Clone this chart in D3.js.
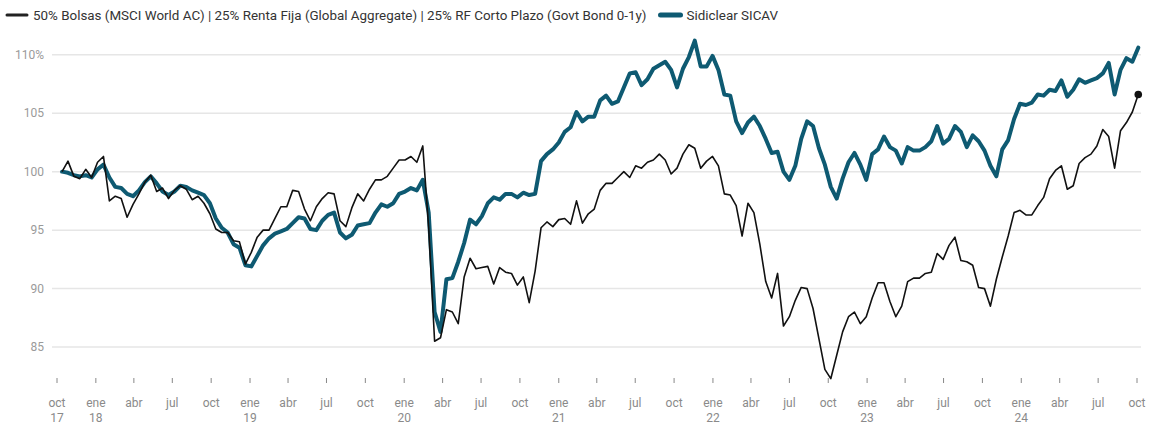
<!DOCTYPE html>
<html>
<head>
<meta charset="utf-8">
<script src="https://cdn.jsdelivr.net/npm/d3@7"></script>
<style>
  html, body { margin: 0; padding: 0; background: #fff; }
  svg { display: block; font-family: Roboto, "Noto Sans", sans-serif; }
</style>
</head>
<body>
<svg id="chart" width="1151" height="424"></svg>
<script>
// ---- Data (biweekly from 13 Oct 2017) ----
const startDate = "2017-10-13";
const stepDays = 14;
const seriesNames = [
  "50% Bolsas (MSCI World AC) | 25% Renta Fija (Global Aggregate) | 25% RF Corto Plazo (Govt Bond 0-1y)",
  "Sidiclear SICAV"
];
const benchValues = [
  100.0,100.9,99.6,99.4,100.2,99.5,100.8,101.3,97.5,97.9,
  97.7,96.1,97.2,98.1,99.1,99.7,98.3,98.6,97.7,98.4,
  98.8,98.5,97.6,97.9,97.3,96.4,95.1,94.8,94.8,94.1,
  94.0,92.1,93.1,94.4,95.0,95.0,96.0,97.0,97.0,98.4,
  98.3,96.8,95.8,97.0,97.7,98.2,98.1,95.8,95.3,96.9,
  98.1,97.5,98.5,99.3,99.3,99.6,100.3,101.0,101.0,101.3,
  100.8,102.2,95.2,85.5,85.8,88.2,88.0,87.0,91.0,92.6,
  91.7,91.8,91.9,90.4,91.8,91.4,91.3,90.3,91.0,88.8,
  91.5,95.2,95.7,95.3,95.9,96.0,95.5,97.5,95.6,96.4,
  96.8,98.4,99.0,99.0,99.5,100.0,99.5,100.5,100.3,100.8,
  101.0,101.5,101.0,99.8,100.3,101.5,102.3,102.0,100.3,100.9,
  101.3,100.5,98.1,98.0,97.1,94.5,97.3,96.5,93.8,90.6,
  89.2,91.3,86.8,87.6,89.0,90.1,90.0,88.3,85.7,83.1,
  82.3,84.3,86.3,87.6,88.0,87.0,87.6,89.2,90.5,90.5,
  88.9,87.6,88.5,90.6,90.9,90.9,91.3,91.4,93.0,92.5,
  93.7,94.4,92.4,92.3,92.0,90.1,90.0,88.5,90.8,92.7,
  94.5,96.5,96.7,96.3,96.3,97.1,97.8,99.4,100.1,100.5,
  98.5,98.8,100.7,101.2,101.5,102.2,103.6,103.0,100.3,103.5,
  104.2,105.1,106.6
];
const sicavValues = [
  100.0,99.9,99.7,99.6,99.7,99.5,100.2,100.6,99.5,98.7,
  98.6,98.1,97.9,98.4,99.1,99.6,99.0,98.3,98.0,98.3,
  98.8,98.7,98.4,98.2,98.0,97.3,96.0,95.2,94.8,93.8,
  93.5,92.0,91.9,92.8,93.7,94.3,94.7,94.9,95.1,95.6,
  96.1,96.0,95.1,95.0,95.8,96.3,96.5,94.8,94.3,94.6,
  95.4,95.5,95.6,96.5,97.2,97.0,97.3,98.1,98.3,98.6,
  98.4,99.3,96.5,88.0,86.3,90.8,90.9,92.3,93.9,95.9,
  95.5,96.2,97.3,97.8,97.6,98.1,98.1,97.8,98.2,98.0,
  98.1,100.9,101.5,101.9,102.5,103.4,103.8,105.1,104.3,104.7,
  104.7,106.1,106.5,105.8,106.0,107.2,108.4,108.5,107.4,107.9,
  108.8,109.1,109.4,108.7,107.2,108.8,109.8,111.2,109.0,109.0,
  109.9,108.7,106.6,106.5,104.3,103.3,104.2,104.7,103.9,102.8,
  101.6,101.7,100.0,99.3,100.5,102.8,104.3,103.9,102.0,100.6,
  98.7,97.7,99.4,100.8,101.6,100.6,99.3,101.5,101.9,103.0,
  102.1,101.8,100.7,102.1,101.8,101.8,102.1,102.6,103.9,102.4,
  102.8,103.9,103.4,102.1,103.1,102.6,101.8,100.5,99.6,101.9,
  102.7,104.5,105.8,105.7,105.9,106.6,106.5,107.0,106.9,107.8,
  106.4,107.0,107.9,107.6,107.8,108.0,108.4,109.3,106.6,108.7,
  109.7,109.4,110.6
];
const yTicks = [85, 90, 95, 100, 105, 110];
const monthNames = ["ene","feb","mar","abr","may","jun","jul","ago","sep","oct","nov","dic"];
const xDomain = ["2017-10-01", "2024-10-01"];

// ---- Build ----
const parse = d3.utcParse("%Y-%m-%d");
const t0 = parse(startDate);
const dates = benchValues.map((_, i) => d3.utcDay.offset(t0, i * stepDays));
const bench = dates.map((d, i) => ({date: d, v: benchValues[i]}));
const sicav = dates.map((d, i) => ({date: d, v: sicavValues[i]}));

const svg = d3.select("#chart");
const x = d3.scaleUtc().domain(xDomain.map(parse)).range([57, 1137]);
const y = d3.scaleLinear().domain([85, 110]).range([347.1, 54.7]);

// grid
svg.append("g").selectAll("line").data(yTicks).join("line")
  .attr("x1", 52).attr("x2", 1141)
  .attr("y1", d => y(d)).attr("y2", d => y(d))
  .attr("stroke", "#e6e6e6").attr("stroke-width", 1.5);

// y labels
svg.append("g").selectAll("text").data(yTicks).join("text")
  .attr("x", 44).attr("y", d => y(d)).attr("dy", "0.35em")
  .attr("text-anchor", "end").attr("font-size", 12).attr("fill", "#9a9a9a")
  .text(d => d === 110 ? d + "%" : d);

// x axis ticks
const xTicks = d3.utcMonth.every(3).range(parse(xDomain[0]), d3.utcDay.offset(parse(xDomain[1]), 1));
const xg = svg.append("g").attr("transform", "translate(0,378)");
xg.selectAll("line").data(xTicks).join("line")
  .attr("x1", d => x(d)).attr("x2", d => x(d))
  .attr("y1", 0).attr("y2", 5)
  .attr("stroke", "#888").attr("stroke-width", 1);
xg.selectAll("text.m").data(xTicks).join("text").attr("class", "m")
  .attr("x", d => x(d)).attr("y", 29)
  .attr("text-anchor", "middle").attr("font-size", 12).attr("fill", "#8a8a8a")
  .text(d => monthNames[d.getUTCMonth()]);
xg.selectAll("text.y").data(xTicks.filter((d, i) => i === 0 || d.getUTCMonth() === 0)).join("text").attr("class", "y")
  .attr("x", d => x(d)).attr("y", 44)
  .attr("text-anchor", "middle").attr("font-size", 12).attr("fill", "#8a8a8a")
  .text(d => String(d.getUTCFullYear()).slice(2));

// lines
const line = d3.line().x(d => x(d.date)).y(d => y(d.v)).curve(d3.curveLinear);
svg.append("path").datum(sicav).attr("d", line)
  .attr("fill", "none").attr("stroke", "#0e5a72").attr("stroke-width", 4)
  .attr("stroke-linejoin", "round").attr("stroke-linecap", "round");
svg.append("path").datum(bench).attr("d", line)
  .attr("fill", "none").attr("stroke", "#111").attr("stroke-width", 1.6)
  .attr("stroke-linejoin", "round");
const last = bench[bench.length - 1];
svg.append("circle").attr("cx", x(last.date)).attr("cy", y(last.v)).attr("r", 3.8).attr("fill", "#111");

// legend
const lg = svg.append("g");
lg.append("line").attr("x1", 7).attr("x2", 27).attr("y1", 15).attr("y2", 15)
  .attr("stroke", "#222").attr("stroke-width", 3).attr("stroke-linecap", "round");
const t1 = lg.append("text").attr("x", 33).attr("y", 15).attr("dy", "0.35em")
  .attr("font-size", 13.4).attr("fill", "#333").text(seriesNames[0]);
const w1 = t1.node().getComputedTextLength();
const lx = 33 + w1 + 14;
lg.append("line").attr("x1", lx).attr("x2", lx + 20).attr("y1", 15).attr("y2", 15)
  .attr("stroke", "#0e5a72").attr("stroke-width", 5).attr("stroke-linecap", "round");
lg.append("text").attr("x", lx + 26).attr("y", 15).attr("dy", "0.35em")
  .attr("font-size", 13.4).attr("fill", "#333").text(seriesNames[1]);
</script>
</body>
</html>
